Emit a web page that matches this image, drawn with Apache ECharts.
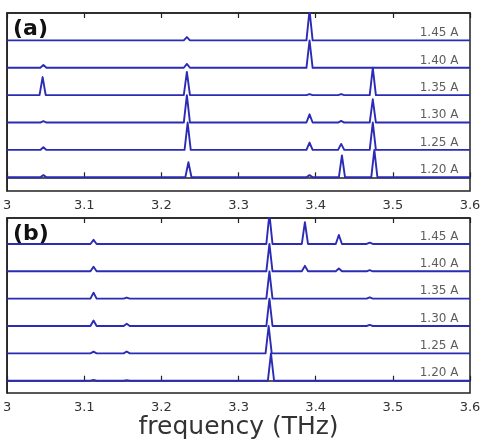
<!DOCTYPE html>
<html>
<head>
<meta charset="utf-8">
<script src="https://cdn.jsdelivr.net/npm/echarts@6/dist/echarts.min.js"></script>
<style>
  html, body { margin: 0; padding: 0; background: #fff; }
  #chart { width: 485px; height: 444px; }
</style>
</head>
<body>
<div id="chart"></div>
<script>
// x range and ticks (THz)
const xTicks = [3, 3.1, 3.2, 3.3, 3.4, 3.5, 3.6];
const traceNames = ['1.45 A', '1.40 A', '1.35 A', '1.30 A', '1.25 A', '1.20 A'];

// peaks per trace: [frequency, height in trace-spacing units], top trace first
const peaksA = [
    [[3.233, 0.12], [3.392, 1.1]],
    [[3.047, 0.1], [3.233, 0.14], [3.392, 1.0]],
    [[3.046, 0.66], [3.233, 0.85], [3.392, 0.04], [3.433, 0.04], [3.474, 1.0]],
    [[3.047, 0.05], [3.233, 1.0], [3.392, 0.3], [3.433, 0.06], [3.474, 0.85]],
    [[3.047, 0.1], [3.234, 1.0], [3.392, 0.27], [3.433, 0.22], [3.474, 1.0]],
    [[3.047, 0.08], [3.235, 0.55], [3.392, 0.08], [3.434, 0.8], [3.476, 1.0]]
];
const peaksB = [
    [[3.112, 0.15], [3.340, 1.1], [3.386, 0.8], [3.430, 0.33], [3.470, 0.05]],
    [[3.112, 0.17], [3.340, 1.0], [3.386, 0.2], [3.430, 0.1], [3.470, 0.04]],
    [[3.112, 0.22], [3.155, 0.04], [3.340, 1.0], [3.470, 0.05]],
    [[3.112, 0.2], [3.155, 0.08], [3.340, 1.0], [3.470, 0.04]],
    [[3.112, 0.06], [3.155, 0.07], [3.339, 1.0]],
    [[3.112, 0.03], [3.155, 0.02], [3.342, 1.0]]
];

const lineColor = '#2b2bb5';
const halfWidth = 0.004;

function tracePoints(peaks, offset) {
    const pts = [[3, offset]];
    peaks.forEach(function (p) {
        pts.push([p[0] - halfWidth, offset]);
        pts.push([p[0], offset + p[1]]);
        pts.push([p[0] + halfWidth, offset]);
    });
    pts.push([3.6, offset]);
    return pts;
}

function panelSeries(peaksList, gridIndex) {
    const out = [];
    peaksList.forEach(function (peaks, i) {
        out.push({
            type: 'line',
            xAxisIndex: gridIndex * 2,
            yAxisIndex: gridIndex,
            data: tracePoints(peaks, 5 - i),
            showSymbol: false,
            silent: true,
            lineStyle: {color: lineColor, width: 1.9, join: 'round'},
            z: 3
        });
    });
    out.push({
        type: 'scatter',
        xAxisIndex: gridIndex * 2,
        yAxisIndex: gridIndex,
        symbolSize: 0,
        silent: true,
        data: traceNames.map(function (n, i) { return [3.585, 5 - i + 0.27, n]; }),
        label: {
            show: true,
            position: 'left',
            distance: 0,
            formatter: function (p) { return p.value[2]; },
            color: '#333',
            fontSize: 12,
            fontFamily: 'DejaVu Sans'
        }
    });
    return out;
}

function bottomAxis(gridIndex, withName) {
    const ax = {
        type: 'value',
        gridIndex: gridIndex,
        min: 3,
        max: 3.6,
        interval: 0.1,
        position: 'bottom',
        axisLine: {show: true, lineStyle: {color: '#222', width: 1.5}},
        axisTick: {show: true, inside: true, length: 5, lineStyle: {color: '#222', width: 1.2}},
        splitLine: {show: false},
        axisLabel: {
            color: '#333',
            fontSize: 13,
            fontFamily: 'DejaVu Sans',
            margin: 8,
            formatter: function (v) {
                const t = xTicks.find(function (x) { return Math.abs(x - v) < 1e-6; });
                return t === undefined ? '' : String(t);
            }
        }
    };
    if (withName) {
        ax.name = 'frequency (THz)';
        ax.nameLocation = 'middle';
        ax.nameGap = 22;
        ax.nameTextStyle = {color: '#333', fontSize: 25, fontFamily: 'DejaVu Sans'};
    }
    return ax;
}

function topAxis(gridIndex) {
    return {
        type: 'value',
        gridIndex: gridIndex,
        min: 3,
        max: 3.6,
        interval: 0.1,
        position: 'top',
        axisLine: {show: true, lineStyle: {color: '#222', width: 1.5}},
        axisTick: {show: true, inside: true, length: 5, lineStyle: {color: '#222', width: 1.2}},
        axisLabel: {show: false},
        splitLine: {show: false}
    };
}

function yAxis(gridIndex, min, max) {
    return {
        type: 'value',
        gridIndex: gridIndex,
        min: min,
        max: max,
        axisLine: {show: true, lineStyle: {color: '#222', width: 1.5}},
        axisTick: {show: false},
        axisLabel: {show: false},
        splitLine: {show: false}
    };
}

const chart = echarts.init(document.getElementById('chart'), null, {renderer: 'canvas'});

const option = {
    backgroundColor: '#fff',
    animation: false,
    title: [
        {text: '(a)', left: 8, top: 13, textStyle: {fontSize: 22, fontWeight: 'bold', color: '#111', fontFamily: 'DejaVu Sans'}},
        {text: '(b)', left: 8, top: 218, textStyle: {fontSize: 22, fontWeight: 'bold', color: '#111', fontFamily: 'DejaVu Sans'}}
    ],
    grid: [
        {left: 6, right: 15, top: 13, height: 178, show: true, borderColor: '#222', borderWidth: 1.5},
        {left: 6, right: 15, top: 218, height: 175, show: true, borderColor: '#222', borderWidth: 1.5}
    ],
    xAxis: [bottomAxis(0, false), topAxis(0), bottomAxis(1, true), topAxis(1)],
    yAxis: [yAxis(0, -0.5, 6), yAxis(1, -0.45, 5.95)],
    series: panelSeries(peaksA, 0).concat(panelSeries(peaksB, 1))
};

chart.setOption(option);
</script>
</body>
</html>
